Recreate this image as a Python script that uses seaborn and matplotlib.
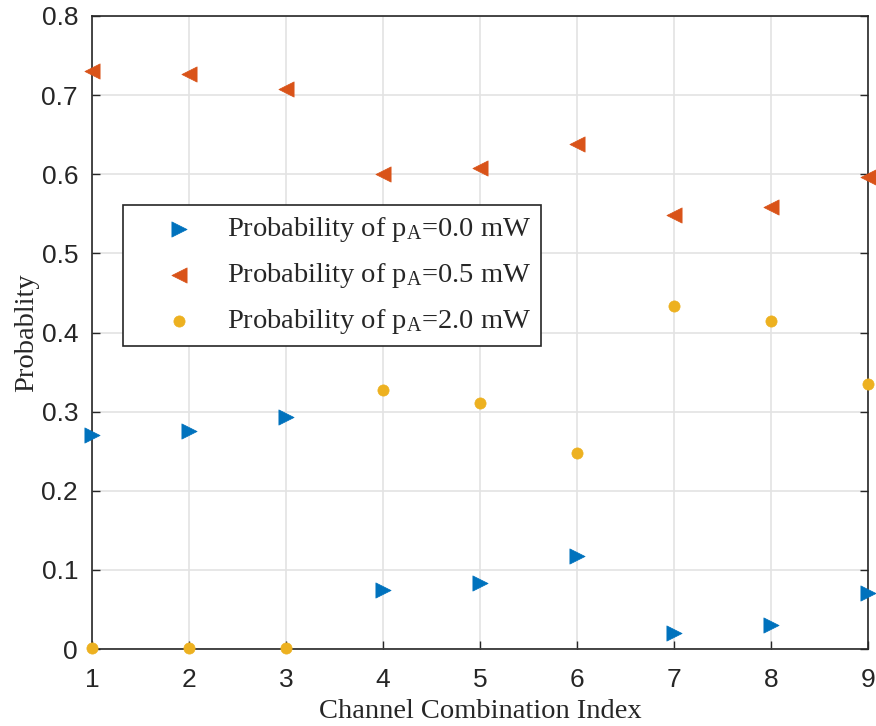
import numpy as np
import pandas as pd
import seaborn as sns
import matplotlib.pyplot as plt

# Values
channel_index = [1, 2, 3, 4, 5, 6, 7, 8, 9]
prob_p00 = [0.270, 0.275, 0.293, 0.074, 0.084, 0.117, 0.020, 0.030, 0.071]
prob_p05 = [0.731, 0.727, 0.708, 0.600, 0.608, 0.638, 0.549, 0.559, 0.596]
prob_p20 = [0.001, 0.001, 0.001, 0.327, 0.311, 0.248, 0.434, 0.414, 0.335]

series_labels = [r'Probability of p$_{\mathrm{A}}$=0.0 mW',
                 r'Probability of p$_{\mathrm{A}}$=0.5 mW',
                 r'Probability of p$_{\mathrm{A}}$=2.0 mW']
series_colors = ['#0072BD', '#D95319', '#EDB120']
series_markers = ['>', '<', 'o']
series_sizes = [120, 120, 65]

sns.set_theme(style='whitegrid')
plt.rcParams['font.family'] = ['Liberation Sans', 'DejaVu Sans']
plt.rcParams['mathtext.fontset'] = 'custom'
plt.rcParams['mathtext.rm'] = 'Liberation Serif'
plt.rcParams['mathtext.it'] = 'Liberation Serif:italic'

fig = plt.figure(figsize=(8.76, 7.26), dpi=100)
ax = fig.add_axes([0.105, 0.106, 0.886, 0.872])

for vals, lab, col, mk, sz in zip([prob_p00, prob_p05, prob_p20], series_labels,
                                  series_colors, series_markers, series_sizes):
    df = pd.DataFrame({'x': channel_index, 'y': vals})
    sns.scatterplot(data=df, x='x', y='y', ax=ax, color=col, marker=mk, s=sz,
                    edgecolor=col, linewidth=0.5, label=lab, clip_on=False, zorder=3)

ax.set_xlim(1, 9)
ax.set_ylim(0, 0.8)
ax.set_xticks(channel_index)
ax.set_yticks(np.arange(0, 0.81, 0.1))
ax.set_yticklabels(['0', '0.1', '0.2', '0.3', '0.4', '0.5', '0.6', '0.7', '0.8'])
ax.xaxis.set_tick_params(direction='in', length=6, width=1, colors='#262626',
                         labelsize=19, pad=14, bottom=True, top=False)
ax.yaxis.set_tick_params(direction='in', length=6, width=1, colors='#262626',
                         labelsize=19, pad=10, left=True, right=True)

ax.grid(True, color='#e3e3e3', linewidth=1.2)
ax.set_axisbelow(True)
for sp in ax.spines.values():
    sp.set_visible(True)
    sp.set_color('#262626')
    sp.set_linewidth(1.2)

ax.set_xlabel('Channel Combination Index', family='Liberation Serif', fontsize=20.5,
              color='#262626', labelpad=5)
ax.set_ylabel('Probablity', family='Liberation Serif', fontsize=20.5,
              color='#262626', labelpad=2)

leg = ax.legend(loc='upper left', bbox_to_anchor=(0.040, 0.701), borderaxespad=0,
                frameon=True, fancybox=False, edgecolor='#262626', framealpha=1,
                prop={'family': 'Liberation Serif', 'size': 20.5},
                handletextpad=0.1, borderpad=0.35, labelspacing=0.6,
                handlelength=3.2)
leg.get_frame().set_linewidth(1.2)

fig.savefig('out.png', dpi=100)
